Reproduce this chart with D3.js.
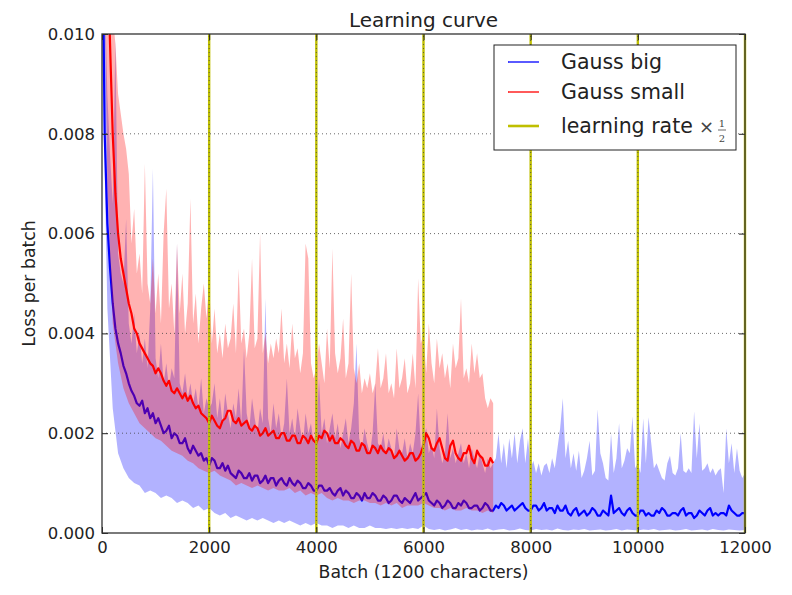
<!DOCTYPE html>
<html>
<head>
<meta charset="utf-8">
<script src="https://cdn.jsdelivr.net/npm/d3@7"></script>
<style>
  body { margin: 0; background: #fff; }
  svg { display: block; font-family: "DejaVu Sans", sans-serif; }
</style>
</head>
<body>
<svg id="chart" width="792" height="595"></svg>
<script>
// all loss values are written in units of 1e-4 (so 100 == 0.010)
const FINE_STEP = 50;   // batches between samples of upper envelope and smoothed curve
const LO_STEP = 100;    // batches between samples of the raw lower envelope

// Gauss big: raw upper envelope, step 50, 0..12000
const blueHi = [
  150,110,88,76,66,99,56,52,50,63,
  42,38,44,36,40,34,39,33,45,73,
  35,31,38,30,34,29,33,31,58,30,
  28,32,27,30,26,29,25,31,24,27,
  25,26,30,23,27,22,28,24,21,26,
  23,29,22,37,24,21,27,23,20,25,
  22,47,23,20,26,21,24,19,22,31,
  20,23,19,25,21,18,24,20,22,18,
  21,31,20,23,18,21,24,19,22,17,
  20,23,18,21,26,38,19,17,21,18,
  16,20,30,18,17,20,16,19,17,15,
  21,17,16,19,15,18,16,20,28,17,
  19,21,16,18,15,25,17,14,16,24,
  15,17,14,16,18,14,16,13,17,15,
  13,16,14,12,15,13,14,15,20,14,
  18,13,19,15,20,14,18.5,21,14,19,
  13,14.5,12,14,11.5,13.5,14,12,15,13,
  17,21,27,15,18.5,13,16,12.5,16.5,11,
  12.5,15,18.5,11.5,12.5,24.8,16,14,11,10.5,
  20,12,15,22,13,14.5,17,16,23.4,13,
  14,12,23,14,23.2,18,13,14,12.5,11,
  10.5,14,15.5,12,11.5,13,20,12.5,12,13,
  12,24.4,15,22,12.5,13,14,12,13,11.5,
  12.5,13,8,21,14,18,12,17,12.5,11,
  12
];
// Gauss big: raw lower envelope, step 100
const blueLo = [
  100,45,25,16,13,11,10,9.5,8,8.5,
  8,7,7.5,7,6,6.5,6,5,5.5,4.5,
  5,4,3.5,4,3,3.5,3,2.5,3,2.5,
  3,2.5,2,2.5,2,2.5,2,1.5,2,1.5,
  2,1.5,1.5,1,1.5,1.5,1,1.5,1,1,
  1.5,1,1,0.8,1,0.8,1,0.8,1,0.8,
  1.5,0.8,0.6,0.8,0.5,0.7,1,0.6,0.8,0.5,
  0.7,0.6,0.9,0.5,0.7,0.8,0.5,0.6,0.9,0.6,
  0.5,0.8,0.6,0.7,0.5,0.9,0.6,0.5,0.7,0.6,
  0.8,0.5,0.6,0.7,0.5,0.6,0.8,0.5,0.7,0.6,
  0.5,0.7,0.6,0.8,0.5,0.6,0.7,0.5,0.6,0.8,
  0.5,0.6,0.7,0.5,0.8,0.6,0.5,0.7,0.6,0.5,
  0.6
];
// Gauss big: smoothed loss, step 50
const blueAvg = [
  130,80,62,53,46,41,38,36,33.5,32,
  30,28.5,27.5,26,25.5,26.5,24,25,23,24,
  22,23,21.5,20,20.5,21.5,19,20,19.5,18,
  18,19,17,16,17.5,16.5,15.5,16,14.5,15,
  13.5,15,14.5,13,13,14,12.5,13.5,12,11.5,
  11,12.5,12,11,11,12,10.5,11.5,11.5,10,
  10.5,11.5,10,11,11,9.5,10.5,11,10,9.5,
  11,10,9.5,10.5,10,9,9,10,9.5,8.5,
  8.5,9.5,9.5,8.5,8.5,9,8,7.5,8.5,9,
  7.5,8.5,8,7,7,8,7.5,6.5,8,7,
  7,8,7.5,6.5,6.5,7.5,7,6,6.5,7.5,
  7.5,6.5,6,7,6.5,6,7,8,6.5,7,
  7.5,8,6.5,6,5.5,6.5,6,5,5.5,6.5,
  6,5,5,6,5.5,6.5,6,5,5,5.5,
  5.5,4.5,5,6,5.5,4.5,4.5,5.5,5,6,
  5.5,4.5,5,5.5,4.5,5,5.5,6,5,4.5,
  4.5,5.5,5.5,4.5,5,6,4.5,5,5,4,
  5.5,4.5,4.5,5.5,4,3.5,4.5,5,3.5,4,
  4.5,3.5,4,5,4.5,3.5,3.5,4.5,4,3.5,
  7.5,4,4.5,5,4,3.5,4.5,5,4,3.5,
  3.5,4.5,4.5,3.5,4,3.5,3.5,4.5,4,5,
  4.5,3.5,3.5,4,4,3.5,4.5,5,3.5,4,
  4,3,3.5,4.5,4,3.5,4.5,5,3.5,4,
  3.5,4,4,3.5,5.5,4.5,4,3.5,3.5,4,
  4
];

// Gauss small: raw upper envelope, step 50, 0..7300
const redHi = [
  250,200,150,120,104,98,88,84,80,77,
  72,58,65,52,56,48,74,50,46,55,
  44,52,42,60,69,45,50,40,58,44,
  52,40,46,67,42,48,38,45,50,43,
  50,38,45,36,40,35,42,37,39,46,
  36,53,38,41,35,40,55,37,39,60,
  36,40,34,38,35,39,36,45,34,38,
  33,42,35,37,32,36,58,55,34,31,
  33,38,34,30,41,33,57,36,32,35,
  43,31,34,52,33,30,34,28,31,29,
  32,28,30,37,29,31,36,28,30,27,
  37,29,31,35,28,30,36,29,51,38,
  40,32,42,34,30,39,33,36,31,34,
  29,38,33,35,47,31,33,30,38,32,
  36,31,32,27,25,27,26
];
// Gauss small: raw lower envelope, step 100
const redLo = [
  150,70,42,34,29,26,24,22,21,20,
  19,18.5,17.5,16.5,16,15.5,14.5,14,13,12.5,
  12,12.5,11.5,11,10.5,9.5,10,9.5,9,9.5,
  9,8.5,9,8.5,8.5,9,8,8.5,7.5,8,
  7.5,8,7,6.5,7,6.5,6.5,6,6.5,6.5,
  6,6,5.5,6,5.5,6,5,5.5,5.5,5.5,
  6,5.5,5,5,4.5,5,4.5,4.5,5,4.5,
  4.5,4,4.5,4
];
// Gauss small: smoothed loss, step 50
const redAvg = [
  200,160,120,98,80,68,60,55,52,49,
  46,44,41,40,38,37,36,35,34,33.5,
  32,33,32,30.5,29.5,30.5,28.5,28,29,28,
  27,28,26.5,27.5,26,25,25.5,24,23.5,23,
  22,23.5,22.5,21.5,21,22.5,23,24.5,24.5,22.5,
  22,23,21.5,22,22.5,21,20.5,21.5,21,19.5,
  20,21,19.5,20,20.5,19,19,20,20,18.5,
  18.5,19.5,19.5,18,18,19.5,19,18,19.5,18.5,
  18,19.5,19,20.5,20,18.5,19.5,18,18,19,
  18.5,17.5,17,18.5,18,16.5,16.5,18,17.5,16,
  16,17.5,17,16,17.5,16.5,16,17,16.5,15,
  15.5,16.5,15.5,14.5,15,16,16,14.5,15,16,
  17.5,20,19,17,16.5,18,19,17,15,14.5,
  17.5,18.5,16,15,14.5,16,16,17.5,15,14,
  16.5,15.5,15,13.5,13.5,15,14
];

const lrHalvings = [2000, 4000, 6000, 8000, 10000, 12000];
const xTicks = [0, 2000, 4000, 6000, 8000, 10000, 12000];
const yTicks = [0, 0.002, 0.004, 0.006, 0.008, 0.010];

const width = 792, height = 595;
const margin = {top: 34, right: 47, bottom: 62, left: 102};

const svg = d3.select("#chart");

const x = d3.scaleLinear().domain([0, 12000]).range([margin.left, width - margin.right]);
const y = d3.scaleLinear().domain([0, 0.010]).range([height - margin.bottom, margin.top]);

function toPoints(arr, step) {
  return arr.map(function(v, i) { return [i * step, v * 1e-4]; });
}

const line = d3.line()
  .x(function(d) { return x(d[0]); })
  .y(function(d) { return y(d[1]); });

svg.append("defs").append("clipPath").attr("id", "plot-clip")
  .append("rect")
  .attr("x", margin.left).attr("y", margin.top)
  .attr("width", x(12000) - x(0)).attr("height", y(0) - y(0.010));

const plot = svg.append("g").attr("clip-path", "url(#plot-clip)");

// raw band = upper envelope left->right, lower envelope right->left
function band(hi, lo, color) {
  const pts = toPoints(hi, FINE_STEP).concat(toPoints(lo, LO_STEP).reverse());
  plot.append("path")
    .attr("d", line(pts) + "Z")
    .attr("fill", color)
    .attr("fill-opacity", 0.3)
    .attr("stroke", "none");
}

function smooth(avg, color) {
  plot.append("path")
    .attr("d", line(toPoints(avg, FINE_STEP)))
    .attr("fill", "none")
    .attr("stroke", color)
    .attr("stroke-width", 2.2)
    .attr("stroke-linejoin", "round");
}

band(blueHi, blueLo, "#0000ff");
smooth(blueAvg, "#0000ff");
band(redHi, redLo, "#ff0000");
smooth(redAvg, "#ff0000");

// learning rate halvings
svg.append("g").selectAll("line")
  .data(lrHalvings)
  .enter().append("line")
    .attr("x1", function(d) { return x(d); })
    .attr("x2", function(d) { return x(d); })
    .attr("y1", y(0)).attr("y2", y(0.010))
    .attr("stroke", "#bfbf00")
    .attr("stroke-width", 2.4);

// dotted grid on top
const grid = svg.append("g")
  .attr("stroke", "#444").attr("stroke-width", 0.8)
  .attr("stroke-dasharray", "1,3");
grid.selectAll(".gx")
  .data(xTicks.slice(1, -1))
  .enter().append("line")
    .attr("x1", function(d) { return x(d); })
    .attr("x2", function(d) { return x(d); })
    .attr("y1", y(0)).attr("y2", y(0.010));
grid.selectAll(".gy")
  .data(yTicks.slice(1, -1))
  .enter().append("line")
    .attr("x1", x(0)).attr("x2", x(12000))
    .attr("y1", function(d) { return y(d); })
    .attr("y2", function(d) { return y(d); });

// axes, ticks inside on all four sides
function styleAxis(g) {
  g.select(".domain").remove();
  g.selectAll(".tick line").attr("stroke", "#222").attr("stroke-width", 1);
  g.selectAll(".tick text").attr("fill", "#222").style("font-size", "16.5px")
    .style("font-family", "'DejaVu Sans', sans-serif");
}

svg.append("g")
  .attr("transform", "translate(0," + y(0) + ")")
  .call(d3.axisBottom(x).tickValues(xTicks).tickFormat(d3.format("d"))
    .tickSize(-6).tickPadding(8))
  .call(styleAxis);
svg.append("g")
  .attr("transform", "translate(0," + y(0.010) + ")")
  .call(d3.axisTop(x).tickValues(xTicks).tickFormat("").tickSize(-6))
  .call(styleAxis);
svg.append("g")
  .attr("transform", "translate(" + x(0) + ",0)")
  .call(d3.axisLeft(y).tickValues(yTicks).tickFormat(d3.format(".3f"))
    .tickSize(-6).tickPadding(7))
  .call(styleAxis);
svg.append("g")
  .attr("transform", "translate(" + x(12000) + ",0)")
  .call(d3.axisRight(y).tickValues(yTicks).tickFormat("").tickSize(-6))
  .call(styleAxis);

svg.append("rect")
  .attr("x", x(0)).attr("y", y(0.010))
  .attr("width", x(12000) - x(0)).attr("height", y(0) - y(0.010))
  .attr("fill", "none").attr("stroke", "#333").attr("stroke-width", 1.3);

// titles
svg.append("text")
  .attr("x", (x(0) + x(12000)) / 2).attr("y", 26.5)
  .attr("text-anchor", "middle").attr("fill", "#222")
  .style("font-size", "20px")
  .text("Learning curve");
svg.append("text")
  .attr("x", (x(0) + x(12000)) / 2).attr("y", 578)
  .attr("text-anchor", "middle").attr("fill", "#222")
  .style("font-size", "17.3px")
  .text("Batch (1200 characters)");
svg.append("text")
  .attr("transform", "translate(35," + (y(0) + y(0.010)) / 2 + ") rotate(-90)")
  .attr("text-anchor", "middle").attr("fill", "#222")
  .style("font-size", "17.3px")
  .text("Loss per batch");

// legend
const legend = svg.append("g");
legend.append("rect")
  .attr("x", 494).attr("y", 45).attr("width", 242).attr("height", 105)
  .attr("fill", "#fff").attr("stroke", "#222").attr("stroke-width", 1);

const legendItems = [
  {label: "Gauss big", color: "#0000ff", width: 1.3, cy: 62},
  {label: "Gauss small", color: "#ff0000", width: 1.3, cy: 92},
  {label: "learning rate", color: "#bfbf00", width: 2.6, cy: 126}
];
legendItems.forEach(function(d) {
  legend.append("line")
    .attr("x1", 508).attr("x2", 539).attr("y1", d.cy).attr("y2", d.cy)
    .attr("stroke", d.color).attr("stroke-width", d.width);
  legend.append("text")
    .attr("x", 561).attr("y", d.cy + 7)
    .attr("fill", "#222").style("font-size", "20.5px")
    .text(d.label);
});
// "×1/2" as in matplotlib mathtext
legend.append("text")
  .attr("x", 699).attr("y", 133)
  .attr("fill", "#444").style("font-size", "18px")
  .text("×");
legend.append("text")
  .attr("x", 722).attr("y", 126.5).attr("text-anchor", "middle")
  .attr("fill", "#444").style("font-size", "10px").style("font-family", "'DejaVu Serif', serif")
  .text("1");
legend.append("line")
  .attr("x1", 718).attr("x2", 726).attr("y1", 130).attr("y2", 130)
  .attr("stroke", "#444").attr("stroke-width", 0.8);
legend.append("text")
  .attr("x", 722).attr("y", 141.5).attr("text-anchor", "middle")
  .attr("fill", "#444").style("font-size", "10px").style("font-family", "'DejaVu Serif', serif")
  .text("2");
</script>
</body>
</html>
